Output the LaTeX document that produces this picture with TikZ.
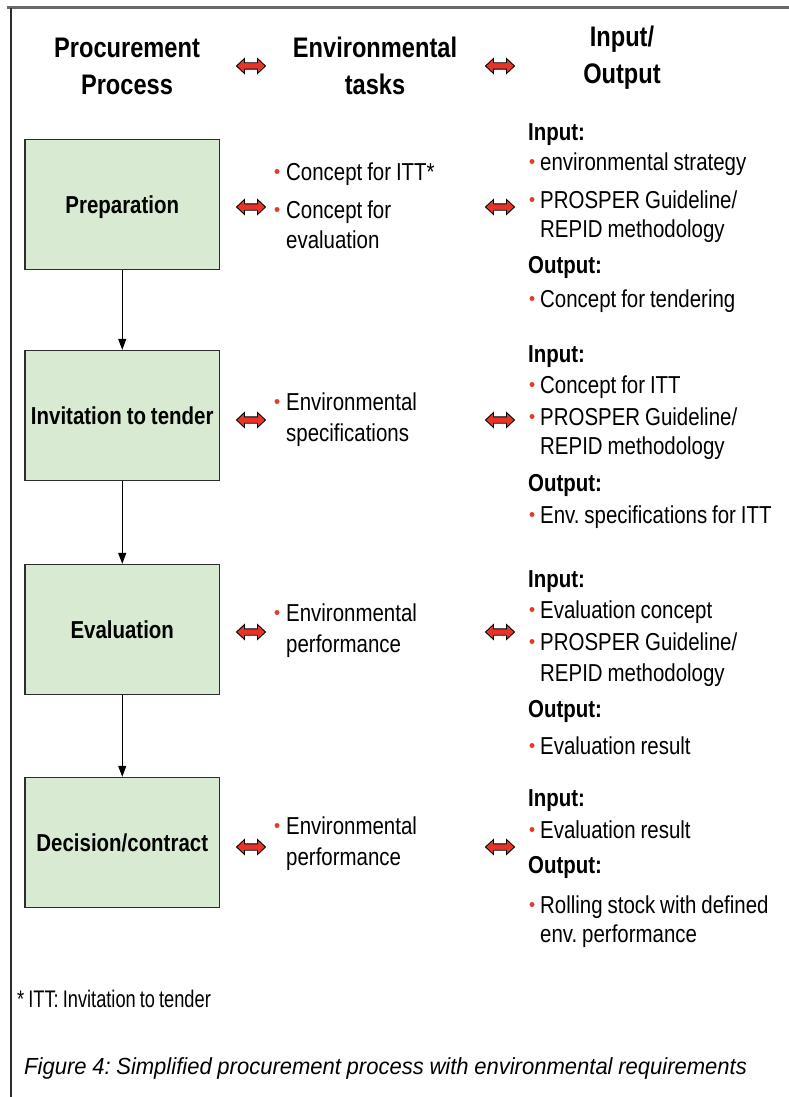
\documentclass[tikz,border=0pt]{standalone}
\usepackage{fontspec}
\setmainfont{Liberation Sans}[FakeStretch=0.835,WordSpace=0.86]
\newfontfamily\footfont{Liberation Sans}[FakeStretch=0.76,WordSpace=0.8]
\newfontfamily\capfont{Liberation Sans}[FakeStretch=0.945,WordSpace=0.93]
\frenchspacing
\usetikzlibrary{arrows.meta}
\definecolor{boxgreen}{RGB}{217,234,211}
\definecolor{boxedge}{RGB}{45,45,45}
\definecolor{arrowred}{RGB}{232,52,40}
\definecolor{bulletred}{RGB}{228,58,48}
\definecolor{framegray}{RGB}{105,105,105}
\tikzset{
  procbox/.style={draw=boxedge,line width=1.3pt,fill=boxgreen,minimum width=194.5pt,minimum height=130pt,
    inner sep=0pt,text height=17.5pt,text depth=0pt,font=\fontsize{24.5}{29}\selectfont\bfseries},
  head/.style={anchor=base,inner sep=0pt,font=\fontsize{28.3}{34}\selectfont\bfseries},
  txt/.style={anchor=base west,inner sep=0pt,font=\fontsize{24.5}{29}\selectfont},
  btxt/.style={anchor=base west,inner sep=0pt,font=\fontsize{24.5}{29}\selectfont\bfseries},
  flow/.style={line width=1pt,-{Triangle[length=11pt,width=8pt]}},
  dbl/.pic={\filldraw[fill=arrowred,draw=black,line width=0.9pt]
    (-14.5,0) -- (-6.5,-7.5) -- (-6.5,-3.2) -- (6.5,-3.2) -- (6.5,-7.5) -- (14.5,0)
    -- (6.5,7.5) -- (6.5,3.2) -- (-6.5,3.2) -- (-6.5,7.5) -- cycle;},
}
\newcommand\bul[2]{\fill[bulletred] (#1,#2-8.5) circle (2.5pt);}
\begin{document}
\begin{tikzpicture}[x=1pt,y=-1pt]
\useasboundingbox (0,0) rectangle (789,1097);
% frame
\draw[framegray,line width=2.6pt] (7,7.5) -- (789,7.5);
\draw[boxedge,line width=1.2pt] (11,8) -- (11,1097);
% headers
\node[head] (h1a) at (127,58) {Procurement};
\node[head] (h1b) at (127,95) {Process};
\node[head] (h2a) at (375,58) {Environmental};
\node[head] (h2b) at (375,95) {tasks};
\node[head] (h3a) at (622,47) {Input/};
\node[head] (h3b) at (622,84) {Output};
\pic (ha1) at (251,66) {dbl};
\pic (ha2) at (500,66) {dbl};
% process boxes
\node[procbox] (p1) at (122.25,204.5) {Preparation};
\node[procbox] (p2) at (122.25,415.5) {Invitation to tender};
\node[procbox] (p3) at (122.25,629.5) {Evaluation};
\node[procbox] (p4) at (122.25,842.5) {Decision/contract};
\draw[flow] (p1.south) -- (p2.north);
\draw[flow] (p2.south) -- (p3.north);
\draw[flow] (p3.south) -- (p4.north);
% double arrows
\pic (l1) at (251,207) {dbl};
\pic (r1) at (500,207) {dbl};
\pic (l2) at (251,420) {dbl};
\pic (r2) at (500,420) {dbl};
\pic (l3) at (251,632) {dbl};
\pic (r3) at (500,632) {dbl};
\pic (l4) at (251,847) {dbl};
\pic (r4) at (500,847) {dbl};
% environmental tasks
\bul{277}{180}\node[txt] (m1a) at (286,180) {Concept for ITT*};
\bul{277}{218}\node[txt] (m1b) at (286,218) {Concept for};
\node[txt] (m1c) at (286,248) {evaluation};
\bul{277}{410}\node[txt] (m2a) at (286,410) {Environmental};
\node[txt] (m2b) at (286,441) {specifications};
\bul{277}{621}\node[txt] (m3a) at (286,621) {Environmental};
\node[txt] (m3b) at (286,652) {performance};
\bul{277}{834}\node[txt] (m4a) at (286,834) {Environmental};
\node[txt] (m4b) at (286,865) {performance};
% input / output block 1
\node[btxt] (i1) at (528,140) {Input:};
\bul{532}{170}\node[txt] (i1a) at (540,170) {environmental strategy};
\bul{532}{208}\node[txt] (i1b) at (540,208) {PROSPER Guideline/};
\node[txt] (i1c) at (540,237) {REPID methodology};
\node[btxt] (o1) at (528,273) {Output:};
\bul{532}{307}\node[txt] (o1a) at (540,307) {Concept for tendering};
% block 2
\node[btxt] (i2) at (528,362) {Input:};
\bul{532}{393}\node[txt] (i2a) at (540,393) {Concept for ITT};
\bul{532}{425}\node[txt] (i2b) at (540,425) {PROSPER Guideline/};
\node[txt] (i2c) at (540,454) {REPID methodology};
\node[btxt] (o2) at (528,491) {Output:};
\bul{532}{523}\node[txt] (o2a) at (540,523) {Env. specifications for ITT};
% block 3
\node[btxt] (i3) at (528,587) {Input:};
\bul{532}{618}\node[txt] (i3a) at (540,618) {Evaluation concept};
\bul{532}{650}\node[txt] (i3b) at (540,650) {PROSPER Guideline/};
\node[txt] (i3c) at (540,681) {REPID methodology};
\node[btxt] (o3) at (528,717) {Output:};
\bul{532}{754}\node[txt] (o3a) at (540,754) {Evaluation result};
% block 4
\node[btxt] (i4) at (528,806) {Input:};
\bul{532}{838}\node[txt] (i4a) at (540,838) {Evaluation result};
\node[btxt] (o4) at (528,873) {Output:};
\bul{532}{913}\node[txt] (o4a) at (540,913) {Rolling stock with defined};
\node[txt] (o4b) at (540,942) {env. performance};
% footnote and caption
\node[anchor=base west,inner sep=0pt,font=\footfont\fontsize{24}{28}\selectfont] (fn) at (17,1007) {* ITT: Invitation to tender};
\node[anchor=base west,inner sep=0pt,font=\capfont\fontsize{23.3}{28}\selectfont\itshape] (cap) at (24,1074) {Figure 4: Simplified procurement process with environmental requirements};
\end{tikzpicture}
\end{document}
